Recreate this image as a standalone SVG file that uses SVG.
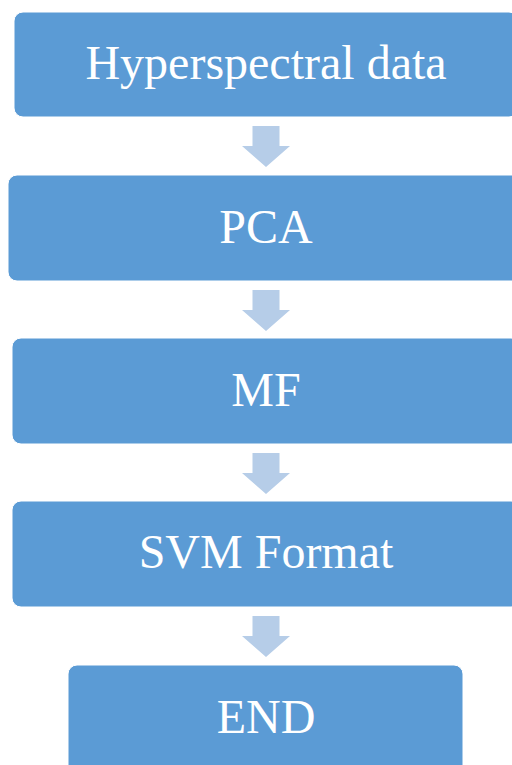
<svg xmlns="http://www.w3.org/2000/svg" width="512" height="765" viewBox="0 0 512 765">
  <defs>
    <style>
      .box { fill: #5B9BD5; stroke: #FFFFFF; stroke-width: 1; }
      .label { fill: #FFFFFF; font-family: "Liberation Serif", "Times New Roman", serif; font-size: 48px; text-anchor: middle; }
      .arrow { fill: #B6CDE8; }
    </style>
    <!-- block arrow pointing down, origin at top-centre of the shaft -->
    <path id="down" d="M -13.5 0 H 13.5 V 20 H 24 L 0 41 L -24 20 H -13.5 Z"/>
  </defs>
  <rect width="512" height="765" fill="#FFFFFF"/>

  <g id="connectors">
    <use href="#down" class="arrow" x="266" y="126"/>
    <use href="#down" class="arrow" x="266" y="290"/>
    <use href="#down" class="arrow" x="266" y="453"/>
    <use href="#down" class="arrow" x="266" y="616"/>
  </g>

  <g id="hyperspectral">
    <rect class="box" x="14" y="12" width="504" height="105" rx="9"/>
    <text class="label" x="266" y="79">Hyperspectral data</text>
  </g>
  <g id="pca">
    <rect class="box" x="8" y="175" width="516" height="106" rx="9"/>
    <text class="label" x="266" y="243">PCA</text>
  </g>
  <g id="mf">
    <rect class="box" x="12" y="338" width="508" height="106" rx="9"/>
    <text class="label" x="266" y="406">MF</text>
  </g>
  <g id="svm-format">
    <rect class="box" x="12" y="501" width="508" height="106" rx="9"/>
    <text class="label" x="266" y="568">SVM Format</text>
  </g>
  <g id="end">
    <rect class="box" x="68" y="665" width="395" height="110" rx="9"/>
    <text class="label" x="266" y="733">END</text>
  </g>
</svg>
